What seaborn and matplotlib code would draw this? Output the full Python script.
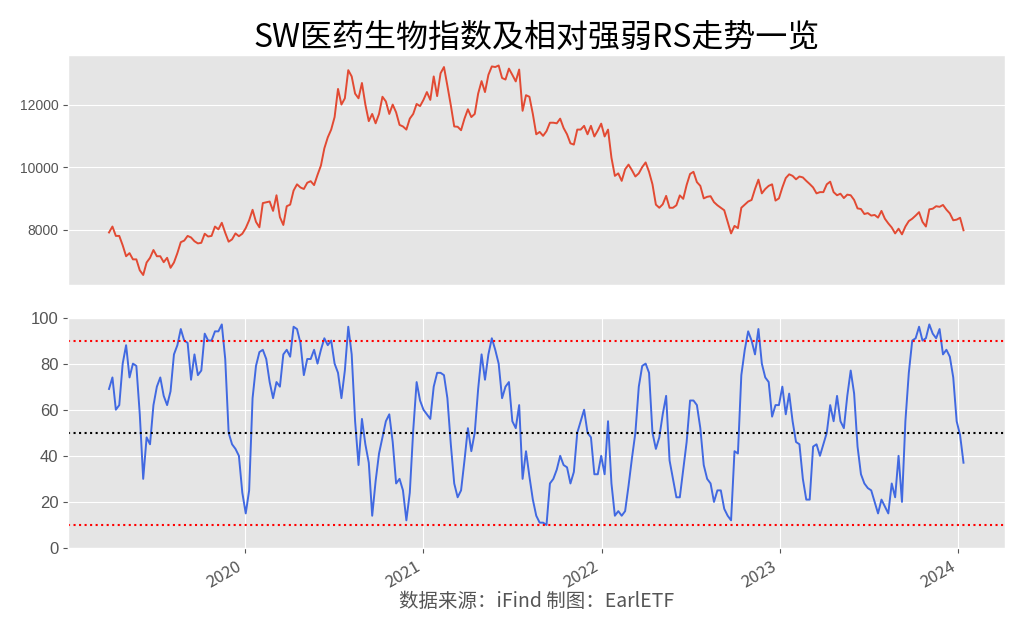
import matplotlib
matplotlib.use('Agg')
from matplotlib import pyplot as plt
import seaborn as sns
import pandas as pd

# weekly samples, 2019-03-29 .. 2024-01-12
start_date = '2019-03-29'
n_weeks = 251

index_values = [
    7910, 8100, 7800, 7800, 7500, 7150, 7250, 7050, 7050, 6700,
    6550, 6950, 7100, 7350, 7150, 7150, 6960, 7100, 6780, 6950,
    7250, 7600, 7650, 7800, 7750, 7630, 7560, 7580, 7870, 7780,
    7800, 8100, 8010, 8220, 7900, 7615, 7690, 7880, 7790, 7870,
    8050, 8300, 8635, 8250, 8075, 8850, 8875, 8900, 8600, 9100,
    8400, 8150, 8750, 8800, 9250, 9450, 9350, 9300, 9500,
    9550, 9425, 9750, 10050, 10600, 10950, 11200, 11600, 12500, 12000,
    12200, 13100, 12900, 12350, 12200, 12690, 12000, 11470, 11700, 11400,
    11700, 12250, 12100, 11700, 12000, 11750, 11350, 11300, 11200, 11550,
    11700, 12020, 11950, 12150, 12400, 12150, 12900, 12270, 13000, 13200,
    12600, 11980, 11300, 11290, 11180, 11550, 11850, 11600, 11700, 12350,
    12750, 12400, 12950, 13220, 13200, 13250, 12850, 12800, 13150, 12950,
    12740, 13120, 11800, 12300, 12250, 11700, 11050, 11125,
    11000, 11150, 11420, 11420, 11400, 11550, 11250, 11050, 10760, 10720,
    11200, 11200, 11320, 11050, 11320, 10980, 11170, 11390, 10980, 11200,
    10300, 9720, 9800, 9560, 9930, 10080, 9900, 9700, 9800, 10000,
    10150, 9850, 9450, 8800, 8700, 8810, 9080, 8700, 8700, 8780,
    9095, 8985, 9430, 9780, 9850, 9520, 9400, 9000, 9050, 9070,
    8880, 8780, 8700, 8620, 8250, 7880, 8120, 8050, 8700, 8800,
    8900, 8950, 9300, 9600, 9160, 9300, 9400,
    9450, 8930, 9000, 9350, 9650, 9770, 9720, 9610, 9700, 9670,
    9560, 9460, 9350, 9160, 9200, 9200, 9450, 9535, 9200, 9100,
    9150, 9010, 9120, 9100, 8950, 8680, 8660, 8500, 8530, 8450,
    8470, 8385, 8600, 8350, 8200, 8070, 7880, 8030, 7850, 8100,
    8275, 8350, 8450, 8560, 8250, 8100, 8650, 8670, 8750, 8730,
    8790, 8640, 8520, 8300, 8320, 8380, 7980,
]

rs_values = [
    69, 74, 60, 62, 80, 88, 74, 80, 79, 58,
    30, 48, 45, 62, 70, 74, 66, 62, 68, 84,
    88, 95, 90, 89, 73, 84, 75, 77, 93, 90,
    90, 94, 94, 97, 82, 50, 45, 43, 40, 24,
    15, 25, 65, 79, 85, 86, 82, 72, 65, 72,
    70, 84, 86, 83, 96, 95, 89, 75, 82,
    82, 86, 80, 86, 91, 88, 90, 80, 76, 65,
    77, 96, 84, 55, 36, 56, 45, 37, 14, 29,
    41, 48, 55, 58, 46, 28, 30, 25, 12, 24,
    51, 72, 64, 60, 58, 56, 70, 76, 76, 75,
    65, 45, 28, 22, 25, 38, 52, 42, 50, 69,
    84, 73, 84, 91, 86, 80, 65, 70, 72, 55,
    52, 62, 30, 42, 31, 21, 14, 11,
    11, 10, 28, 30, 34, 40, 36, 35, 28, 33,
    50, 55, 60, 50, 48, 32, 32, 40, 32, 55,
    28, 14, 16, 14, 16, 27, 39, 50, 70, 79,
    80, 76, 50, 43, 48, 58, 66, 38, 30, 22,
    22, 34, 46, 64, 64, 62, 52, 36, 30, 28,
    20, 25, 25, 17, 14, 12, 42, 41, 75, 86,
    94, 90, 84, 95, 80, 74, 72,
    57, 62, 62, 70, 58, 67, 55, 46, 45, 30,
    21, 21, 44, 45, 40, 45, 50, 62, 55, 66,
    55, 52, 66, 77, 67, 44, 32, 28, 26, 25,
    20, 15, 21, 18, 15, 28, 22, 40, 20, 55,
    76, 90, 91, 96, 90, 91, 97, 93, 91, 95,
    84, 86, 83, 74, 55, 49, 37,
]

dates = pd.date_range(start_date, periods=n_weeks, freq='7D')
df = pd.DataFrame({'date': dates, 'index': index_values, 'rs': rs_values})

plt.style.use('ggplot')
plt.rcParams['font.family'] = ['Noto Sans CJK SC', 'DejaVu Sans']
plt.rcParams['axes.unicode_minus'] = False

fig, (ax1, ax2) = plt.subplots(2, 1, figsize=(10.24, 6.32), dpi=100)
fig.subplots_adjust(left=68 / 1024, right=1005 / 1024, top=1 - 55 / 632,
                    bottom=1 - 548 / 632, hspace=0.139)
xlim = (pd.Timestamp('2019-01-04'), pd.Timestamp('2024-04-06'))

sns.lineplot(data=df, x='date', y='index', ax=ax1, color='#E24A33', linewidth=1.4)
ax1.set_xlim(xlim)
ax1.set_xticks([])
ax1.set_xlabel('')
ax1.set_ylabel('')
ax1.set_yticks([8000, 10000, 12000])
ax1.tick_params(axis='y', labelsize=10, labelfontfamily='Liberation Sans')
ax1.set_title('SW医药生物指数及相对强弱RS走势一览', fontsize=23, color='black', pad=6)

sns.lineplot(data=df, x='date', y='rs', ax=ax2, color='royalblue', linewidth=1.4)
ax2.axhline(90, color='red', linestyle=':', linewidth=1.5)
ax2.axhline(50, color='black', linestyle=':', linewidth=1.5)
ax2.axhline(10, color='red', linestyle=':', linewidth=1.5)
ax2.set_xlim(xlim)
ax2.set_ylim(0, 100)
ax2.set_ylabel('')
ax2.tick_params(axis='y', labelsize=12, labelfontfamily='Liberation Sans')
ax2.tick_params(axis='x', labelsize=12)
for lab in ax2.get_xticklabels():
    lab.set_rotation(30)
    lab.set_ha('right')
ax2.set_xlabel('数据来源：iFind 制图：EarlETF', fontsize=14, color='#555555', labelpad=0)

plt.savefig('out.png')
